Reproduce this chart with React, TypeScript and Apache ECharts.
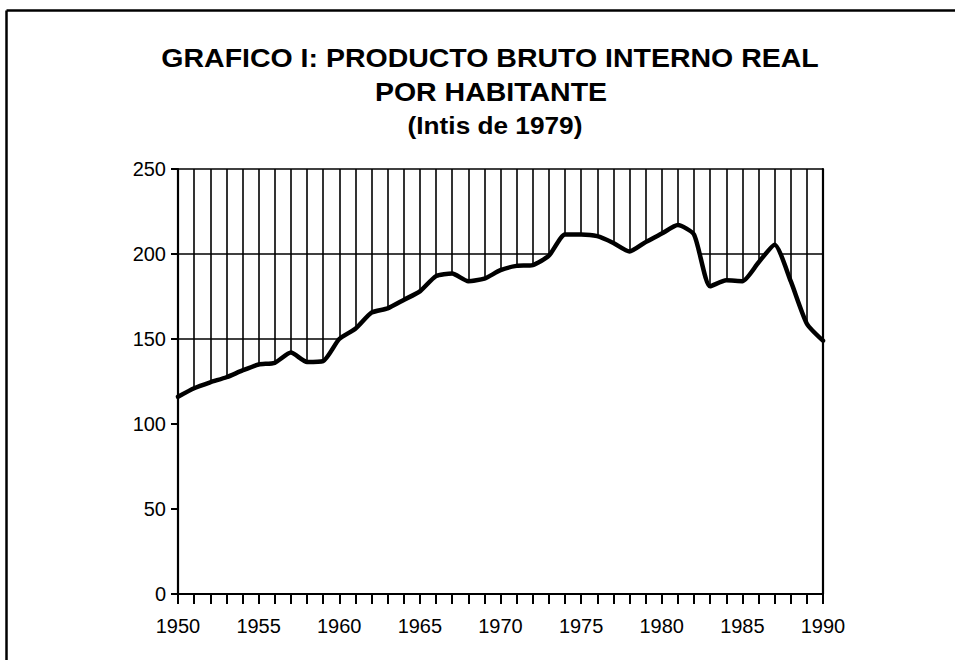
import React, { useEffect, useRef } from "react";
import * as echarts from "echarts";

const years: number[] = [
  1950, 1951, 1952, 1953, 1954, 1955, 1956, 1957, 1958, 1959,
  1960, 1961, 1962, 1963, 1964, 1965, 1966, 1967, 1968, 1969,
  1970, 1971, 1972, 1973, 1974, 1975, 1976, 1977, 1978, 1979,
  1980, 1981, 1982, 1983, 1984, 1985, 1986, 1987, 1988, 1989, 1990,
];

const pibPorHabitante: number[] = [
  116, 121, 124.5, 127.5, 131.5, 135, 136, 142, 136.5, 137,
  150, 156, 165.5, 168, 173, 178, 187, 188.5, 184, 185.5,
  190.5, 193, 193.5, 199, 211.5, 211.5, 210.5, 206.5, 201.5, 207,
  212, 217, 211.5, 181, 184.5, 184, 195, 205.5, 184, 159, 149,
];

const titleLines: string[] = [
  "GRAFICO I: PRODUCTO BRUTO INTERNO REAL",
  "POR HABITANTE",
  "(Intis de 1979)",
];

const FONT = '"Liberation Sans", Arial, Helvetica, sans-serif';

export default function App() {
  const ref = useRef<HTMLDivElement>(null);

  useEffect(() => {
    document.body.style.margin = "0";
    if (!ref.current) return;
    const chart = echarts.init(ref.current, null, { renderer: "svg" });
    const data = years.map((y, i) => [y, pibPorHabitante[i]]);

    const titleText = (text: string, x: number, y: number, size: number) => ({
      type: "text",
      x,
      y,
      scaleX: 1.14,
      style: {
        text,
        x: 0,
        y: 0,
        align: "center",
        verticalAlign: "middle",
        fill: "#000",
        font: `bold ${size}px ${FONT}`,
      },
    });

    const option: any = {
      animation: false,
      backgroundColor: "#ffffff",
      grid: { left: 178, right: 132, top: 169, bottom: 66, containLabel: false },
      xAxis: [
        {
          type: "value",
          min: 1950,
          max: 1990,
          interval: 1,
          z: 0,
          axisLine: { show: false },
          axisTick: { show: false },
          axisLabel: { show: false },
          splitLine: { show: true, lineStyle: { color: "#000", width: 1.6 } },
        },
        {
          type: "value",
          position: "bottom",
          min: 1950,
          max: 1990,
          interval: 1,
          z: 3,
          axisLine: { show: true, lineStyle: { color: "#000", width: 2.2 } },
          axisTick: { show: true, length: 10, lineStyle: { color: "#000", width: 2 } },
          axisLabel: {
            show: true,
            margin: 22,
            color: "#000",
            fontFamily: FONT,
            fontSize: 20,
            formatter: (v: number) => (v % 5 === 0 ? String(v) : ""),
          },
          splitLine: { show: false },
        },
      ],
      yAxis: [
        {
          type: "value",
          min: 0,
          max: 250,
          interval: 50,
          z: 0,
          axisLine: { show: false },
          axisTick: { show: false },
          axisLabel: { show: false },
          splitLine: { show: true, lineStyle: { color: "#000", width: 1.6 } },
        },
        {
          type: "value",
          position: "left",
          min: 0,
          max: 250,
          interval: 50,
          z: 3,
          axisLine: { show: true, lineStyle: { color: "#000", width: 2.2 } },
          axisTick: { show: true, length: 7, lineStyle: { color: "#000", width: 2 } },
          axisLabel: {
            show: true,
            margin: 12,
            color: "#000",
            fontFamily: FONT,
            fontSize: 20,
          },
          splitLine: { show: false },
        },
        {
          type: "value",
          position: "right",
          min: 0,
          max: 250,
          interval: 50,
          z: 3,
          axisLine: { show: true, lineStyle: { color: "#000", width: 2.2 } },
          axisTick: { show: false },
          axisLabel: { show: false },
          splitLine: { show: false },
        },
      ],
      series: [
        {
          type: "line",
          xAxisIndex: 0,
          yAxisIndex: 0,
          data,
          smooth: 0.2,
          showSymbol: false,
          z: 2,
          lineStyle: { color: "#000", width: 4.5, join: "round", cap: "round" },
          areaStyle: { color: "#ffffff", opacity: 1, origin: "start" },
        },
      ],
      graphic: [
        {
          type: "line",
          shape: { x1: 6.5, y1: 10.5, x2: 955, y2: 10.5 },
          style: { stroke: "#000", lineWidth: 2.5 },
        },
        {
          type: "line",
          shape: { x1: 6.5, y1: 10.5, x2: 6.5, y2: 660 },
          style: { stroke: "#000", lineWidth: 2.5 },
        },
        titleText(titleLines[0], 490, 59, 25),
        titleText(titleLines[1], 491, 93, 25),
        titleText(titleLines[2], 495, 126, 23),
      ],
    };

    chart.setOption(option);
    return () => chart.dispose();
  }, []);

  return <div ref={ref} style={{ width: 955, height: 660 }} />;
}
